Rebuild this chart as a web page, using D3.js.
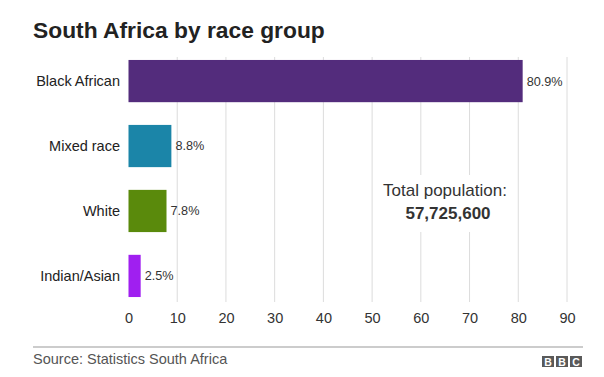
<!DOCTYPE html>
<html><head><meta charset="utf-8">
<script src="https://cdn.jsdelivr.net/npm/d3@7"></script>
<style>body{margin:0;background:#fff}svg{display:block}text{font-family:"Liberation Sans",Arial,Helvetica,sans-serif}</style>
</head><body>
<script>
const categories = ["Black African","Mixed race","White","Indian/Asian"];
const values = [80.9, 8.8, 7.8, 2.5];
const colors = ["#532c7c","#1b85a8","#5a8a0c","#a01ff0"];
const ticks = [0,10,20,30,40,50,60,70,80,90];
const title = "South Africa by race group";
const source = "Source: Statistics South Africa";
const totalLabel = "Total population:";
const totalValue = "57,725,600";

const W=604,H=377;
const svg=d3.select("body").append("svg").attr("width",W).attr("height",H);
const x=d3.scaleLinear().domain([0,90]).range([128.5,567]);
const y=d3.scaleBand().domain(categories).range([48.6,308.4]).paddingInner(0.35).paddingOuter(0.175);

svg.append("text").attr("x",33).attr("y",38).attr("font-size",22.8).attr("font-weight","bold").attr("fill","#222").text(title);

// gridlines
svg.append("g").selectAll("line").data(ticks.slice(1)).join("line")
  .attr("x1",d=>x(d)).attr("x2",d=>x(d)).attr("y1",57).attr("y2",302)
  .attr("stroke","#dcdcdc").attr("stroke-width",1);

// bars
svg.append("g").selectAll("rect").data(values).join("rect")
  .attr("x",x(0)).attr("y",(d,i)=>y(categories[i]))
  .attr("width",d=>x(d)-x(0)).attr("height",y.bandwidth())
  .attr("fill",(d,i)=>colors[i]);

// value labels
svg.append("g").selectAll("text").data(values).join("text")
  .attr("x",d=>x(d)+4).attr("y",(d,i)=>y(categories[i])+y.bandwidth()/2)
  .attr("dy","0.35em").attr("font-size",12.7).attr("fill","#333")
  .text(d=>d.toFixed(1)+"%");

// category labels
svg.append("g").selectAll("text").data(categories).join("text")
  .attr("x",120).attr("y",d=>y(d)+y.bandwidth()/2).attr("dy","0.35em")
  .attr("text-anchor","end").attr("font-size",14.5).attr("fill","#222").text(d=>d);

// x axis
const ax=svg.append("g").attr("transform","translate(0,302)")
  .call(d3.axisBottom(x).tickValues(ticks).tickSize(0).tickPadding(11).tickFormat(d3.format("d")));
ax.select(".domain").remove();
ax.selectAll("text").attr("font-size",14.5).attr("fill","#333").attr("font-family","Liberation Sans, Arial, sans-serif");

// total population annotation
svg.append("rect").attr("x",378).attr("y",175).attr("width",136).attr("height",57).attr("fill","#fff");
svg.append("text").attr("x",445).attr("y",196).attr("text-anchor","middle").attr("font-size",17).attr("fill","#333").text(totalLabel);
svg.append("text").attr("x",448).attr("y",219).attr("text-anchor","middle").attr("font-size",17).attr("font-weight","bold").attr("fill","#333").text(totalValue);

// footer
svg.append("line").attr("x1",33).attr("x2",583).attr("y1",347).attr("y2",347).attr("stroke","#999").attr("stroke-width",1);
svg.append("text").attr("x",33).attr("y",364).attr("font-size",14.5).attr("fill","#555").text(source);
const bbc=svg.append("g");
["B","B","C"].forEach((c,i)=>{
  const bx=542+i*14;
  bbc.append("rect").attr("x",bx).attr("y",356).attr("width",12).attr("height",11).attr("fill","#5a5a5a");
  bbc.append("text").attr("x",bx+6).attr("y",365.5).attr("text-anchor","middle").attr("font-size",10.5).attr("font-weight","bold").attr("fill","#fff").text(c);
});
</script>
</body></html>
